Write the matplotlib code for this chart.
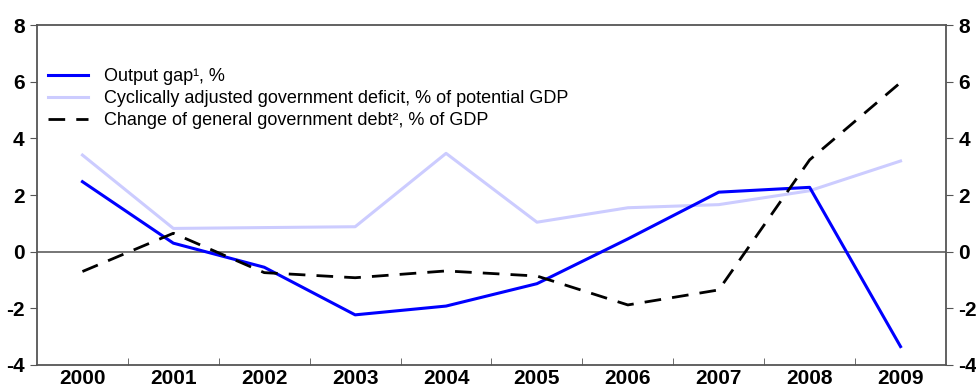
import matplotlib
matplotlib.use("Agg")
import matplotlib.pyplot as plt
import numpy as np

years = ["2000", "2001", "2002", "2003", "2004", "2005", "2006", "2007", "2008", "2009"]
output_gap = [2.47, 0.3, -0.55, -2.23, -1.92, -1.13, 0.45, 2.1, 2.27, -3.35]
cyc_deficit = [3.41, 0.82, 0.85, 0.88, 3.47, 1.04, 1.55, 1.66, 2.15, 3.2]
debt_change = [-0.7, 0.65, -0.74, -0.92, -0.68, -0.86, -1.88, -1.35, 3.24, 5.97]
yticks = [-4, -2, 0, 2, 4, 6, 8]

plt.rcParams['font.family'] = ['Liberation Sans', 'DejaVu Sans']

fig = plt.figure(figsize=(9.76, 3.89), dpi=100)
ax = fig.add_axes([37/976, 24/389, (946-37)/976, (365-25)/389])
x = np.arange(len(years))

ax.axhline(0, color='#6b6b6b', lw=1.3, zorder=1)
ax.plot(x, output_gap, color='#0000ff', lw=2.2, label='Output gap¹, %', zorder=3)
ax.plot(x, cyc_deficit, color='#ccccff', lw=2.2, label='Cyclically adjusted government deficit, % of potential GDP', zorder=2)
ax.plot(x, debt_change, color='black', lw=2.0, dashes=(6, 4), label='Change of general government debt², % of GDP', zorder=4)

ax.set_xlim(-0.5, len(years) - 0.5)
ax.set_ylim(-4, 8)
ax.set_yticks(yticks)
ax.set_yticklabels([str(v) for v in yticks], fontsize=15, fontweight='bold')
ax.set_xticks(x)
ax.set_xticklabels(years, fontsize=15, fontweight='bold')
ax.tick_params(axis='x', which='major', length=0, pad=3)
ax.set_xticks(np.arange(0.5, len(years) - 0.5, 1), minor=True)
ax.tick_params(axis='x', which='minor', direction='in', length=5, color='#555555')
ax.tick_params(axis='y', direction='out', length=5, color='#555555', pad=4)
ax.tick_params(axis='y', labelright=True, right=True)

for s in ax.spines.values():
    s.set_color('#555555')
    s.set_linewidth(1.3)

ax.legend(loc='upper left', bbox_to_anchor=(0.0, 0.905), frameon=False, fontsize=13,
          handlelength=2.2, handletextpad=0.9, labelspacing=0.28, borderaxespad=0.2)

fig.savefig('out.png', dpi=100)
